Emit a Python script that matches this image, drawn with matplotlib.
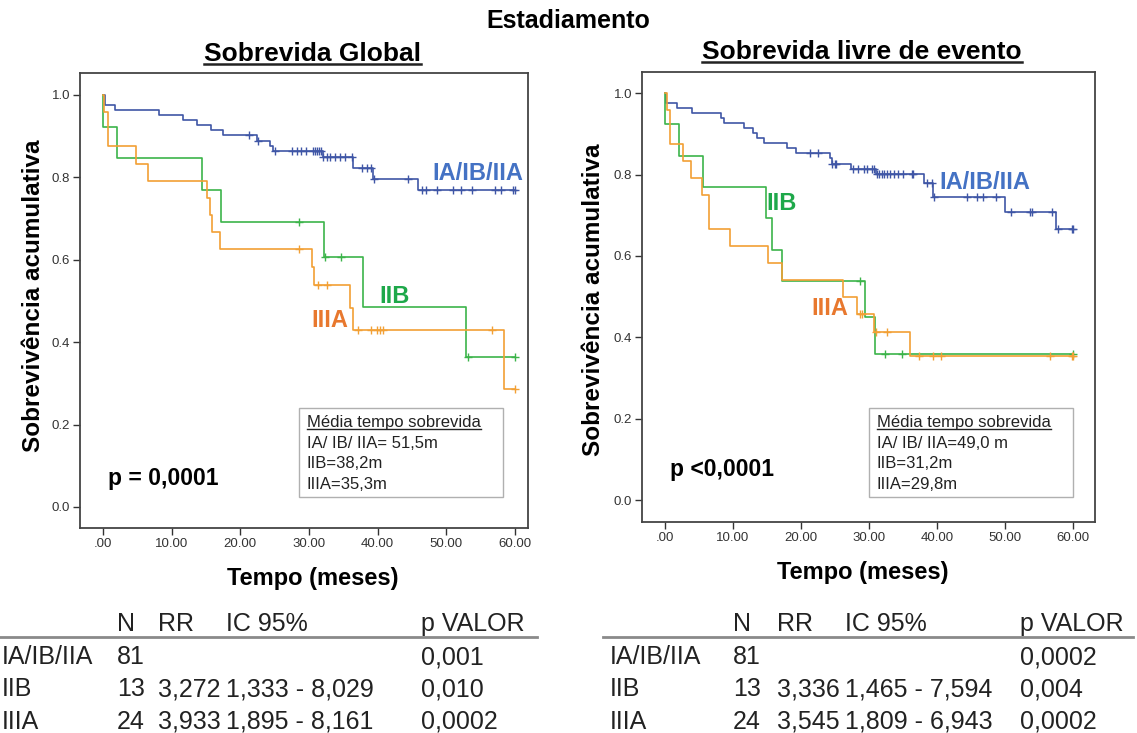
import matplotlib
matplotlib.use("Agg")
import matplotlib.pyplot as plt
import numpy as np
from matplotlib.lines import Line2D
from matplotlib.patches import Rectangle

plt.rcParams['font.family'] = ['Liberation Sans', 'DejaVu Sans']

# ---- curve data (months, cumulative survival after each step) ----
# Sobrevida Global
os_a_t = [0, 0.3, 1.75, 8.2, 11.7, 13.7, 15.8, 17.5, 22.4, 24.3, 24.8, 32.0, 36.4, 39.3, 45.9, 60.0]
os_a_s = [1, 0.975, 0.963, 0.951, 0.939, 0.926, 0.914, 0.902, 0.889, 0.877, 0.864, 0.849, 0.822, 0.797, 0.768, 0.768]
os_a_cens = [21.3, 22.6, 25.1, 27.6, 28.2, 28.9, 29.6, 30.6, 30.9, 31.1, 31.4, 31.8, 32.1, 32.6, 33.0,
             33.8, 34.5, 35.2, 36.2, 37.7, 38.4, 39.0, 39.5, 44.4, 46.4, 47.1, 48.6, 51.0, 52.2, 53.7,
             57.1, 58.0, 59.7, 60.0]
os_b_t = [0, 0.05, 2.0, 14.4, 17.2, 32.2, 37.9, 52.9, 60.0]
os_b_s = [1, 0.923, 0.846, 0.769, 0.692, 0.606, 0.485, 0.364, 0.364]
os_b_cens = [28.6, 32.3, 34.7, 53.1, 60.0]
os_c_t = [0, 0.2, 0.8, 4.8, 6.5, 15.1, 15.6, 15.9, 17.0, 30.4, 30.7, 36.0, 36.4, 58.4, 60.0]
os_c_s = [1, 0.958, 0.875, 0.833, 0.792, 0.750, 0.708, 0.667, 0.625, 0.583, 0.538, 0.484, 0.430, 0.287, 0.287]
os_c_cens = [28.6, 31.3, 32.6, 37.2, 39.1, 39.9, 40.4, 40.8, 56.6, 60.0]

# Sobrevida livre de evento
efs_a_t = [0, 0.2, 1.7, 3.9, 8.2, 8.6, 11.6, 13.0, 13.5, 14.6, 17.9, 19.3, 24.3, 24.5, 27.3, 31.0,
           38.0, 39.4, 50.0, 57.4, 60.0]
efs_a_s = [1, 0.976, 0.963, 0.951, 0.939, 0.927, 0.915, 0.902, 0.890, 0.878, 0.866, 0.853, 0.840,
           0.827, 0.814, 0.801, 0.780, 0.745, 0.708, 0.665, 0.665]
efs_a_cens = [21.3, 22.5, 24.6, 25.0, 25.2, 27.7, 28.4, 29.2, 29.7, 30.4, 30.7, 31.2, 31.5, 31.9, 32.2,
              32.6, 33.1, 33.6, 34.3, 35.0, 36.3, 36.5, 38.5, 39.2, 39.6, 44.4, 45.8, 46.8, 48.7, 50.8,
              53.7, 53.9, 56.9, 57.8, 59.8, 60.0]
efs_b_t = [0, 0.05, 2.1, 5.6, 14.9, 15.7, 17.2, 29.4, 30.9, 60.0]
efs_b_s = [1, 0.923, 0.846, 0.769, 0.692, 0.615, 0.538, 0.449, 0.359, 0.359]
efs_b_cens = [28.6, 32.4, 34.8, 60.0]
efs_c_t = [0, 0.3, 0.7, 2.7, 3.8, 5.5, 6.4, 6.5, 9.6, 15.2, 17.2, 26.2, 28.2, 30.7, 36.0, 60.0]
efs_c_s = [1, 0.958, 0.875, 0.833, 0.792, 0.750, 0.708, 0.667, 0.625, 0.583, 0.542, 0.500, 0.458,
           0.412, 0.355, 0.355]
efs_c_cens = [28.6, 28.9, 31.0, 32.7, 37.4, 39.4, 40.5, 56.6, 59.8, 60.0]

groups = ["IA/IB/IIA", "IIB", "IIIA"]
os_means = ["IA/ IB/ IIA= 51,5m", "IIB=38,2m", "IIIA=35,3m"]
efs_means = ["IA/ IB/ IIA=49,0 m", "IIB=31,2m", "IIIA=29,8m"]

# tables
tab_header = ["N", "RR", "IC 95%", "p VALOR"]
os_n = ["81", "13", "24"]
os_rr = ["", "3,272", "3,933"]
os_ic = ["", "1,333 - 8,029", "1,895 - 8,161"]
os_p = ["0,001", "0,010", "0,0002"]
efs_n = ["81", "13", "24"]
efs_rr = ["", "3,336", "3,545"]
efs_ic = ["", "1,465 - 7,594", "1,809 - 6,943"]
efs_p = ["0,0002", "0,004", "0,0002"]

line_cols = ['#3f56a6', '#3cb44a', '#f2a035']
text_cols = ['#4472c4', '#1ea84a', '#e8782e']

W, H = 1137, 733
fig = plt.figure(figsize=(W / 100, H / 100), dpi=100)


def fx(x):
    return x / W


def fy(y):
    return 1 - y / H


def surv_at(t, s, x):
    idx = np.searchsorted(t, x, side='right') - 1
    return np.asarray(s)[np.clip(idx, 0, len(s) - 1)]


def km_panel(box, xlim, ylim, curves):
    x0, y0, x1, y1 = box
    ax = fig.add_axes([fx(x0), fy(y1), (x1 - x0) / W, (y1 - y0) / H])
    for (t, s, c), col in zip(curves, line_cols):
        ax.step(t, s, where='post', color=col, lw=1.2)
        ax.plot(c, surv_at(t, s, c), ls='none', marker='+', ms=6, mew=1.0, color=col)
    ax.set_xlim(*xlim)
    ax.set_ylim(*ylim)
    ax.set_xticks([0, 10, 20, 30, 40, 50, 60])
    ax.set_xticklabels(['.00', '10.00', '20.00', '30.00', '40.00', '50.00', '60.00'])
    ax.set_yticks([0, 0.2, 0.4, 0.6, 0.8, 1.0])
    ax.set_yticklabels(['0.0', '0.2', '0.4', '0.6', '0.8', '1.0'])
    ax.tick_params(direction='out', length=5, width=1, colors='#333333', labelsize=9.5, pad=2)
    for sp in ax.spines.values():
        sp.set_color('#444444')
        sp.set_linewidth(1.3)
    return ax


axL = km_panel((80, 73, 528, 528), (-3.35, 61.9), (-0.051, 1.053),
               [(os_a_t, os_a_s, os_a_cens), (os_b_t, os_b_s, os_b_cens), (os_c_t, os_c_s, os_c_cens)])
axR = km_panel((642, 72, 1095, 522), (-3.38, 63.2), (-0.054, 1.052),
               [(efs_a_t, efs_a_s, efs_a_cens), (efs_b_t, efs_b_s, efs_b_cens), (efs_c_t, efs_c_s, efs_c_cens)])

# curve labels
lab_kw = dict(fontsize=17, fontweight='bold', va='center', ha='left')
axL.text(47.9, 0.81, groups[0], color=text_cols[0], **lab_kw)
axL.text(40.3, 0.51, groups[1], color=text_cols[1], **lab_kw)
axL.text(30.4, 0.452, groups[2], color=text_cols[2], **lab_kw)
axR.text(40.4, 0.78, groups[0], color=text_cols[0], **lab_kw)
axR.text(14.9, 0.73, groups[1], color=text_cols[1], **lab_kw)
axR.text(21.5, 0.47, groups[2], color=text_cols[2], **lab_kw)

axL.text(0.7, 0.068, "p = 0,0001", fontsize=16.5, fontweight='bold', va='center', ha='left')
axR.text(0.7, 0.074, "p <0,0001", fontsize=16.5, fontweight='bold', va='center', ha='left')

# axis labels
fig.text(fx(34), fy(296), "Sobrevivência acumulativa", rotation=90, fontsize=17.5,
         fontweight='bold', ha='center', va='center')
fig.text(fx(594), fy(300), "Sobrevivência acumulativa", rotation=90, fontsize=17.5,
         fontweight='bold', ha='center', va='center')
fig.text(fx(313), fy(578), "Tempo (meses)", fontsize=17, fontweight='bold', ha='center', va='center')
fig.text(fx(863), fy(572), "Tempo (meses)", fontsize=17, fontweight='bold', ha='center', va='center')

# titles
fig.text(fx(568), fy(28), "Estadiamento", fontsize=18, fontweight='bold', ha='center', va='baseline')
tL = fig.text(fx(312), fy(61), "Sobrevida Global", fontsize=19, fontweight='bold', ha='center', va='baseline')
tR = fig.text(fx(862), fy(59), "Sobrevida livre de evento", fontsize=19, fontweight='bold',
              ha='center', va='baseline')


# mean survival boxes
def mean_box(x0, y0, x1, y1, lines):
    fig.add_artist(Rectangle((fx(x0), fy(y1)), (x1 - x0) / W, (y1 - y0) / H, transform=fig.transFigure,
                             facecolor='white', edgecolor='#b0b0b0', lw=1.0, zorder=3))
    t = fig.text(fx(x0 + 8), fy(y0 + 19), "Média tempo sobrevida", fontsize=12, va='baseline',
                 ha='left', zorder=4, color='#222222')
    for i, s in enumerate(lines):
        fig.text(fx(x0 + 8), fy(y0 + 40 + 20.5 * i), s, fontsize=12, va='baseline', ha='left',
                 zorder=4, color='#222222')
    return t, y0 + 21


bl = mean_box(299, 408, 503, 497, os_means)
br = mean_box(869, 408, 1073, 497, efs_means)


# tables
def table(cols, line_x, rows):
    n, rr, ic, p = rows
    kw = dict(fontsize=18, va='baseline', ha='left', color='#222222')
    for h, cx in zip(tab_header, cols[1:]):
        fig.text(fx(cx), fy(631), h, **kw)
    fig.add_artist(Line2D([fx(line_x[0]), fx(line_x[1])], [fy(637), fy(637)], color='#8a8a8a',
                          lw=2, transform=fig.transFigure))
    for i, g in enumerate(groups):
        yb = 664 + 32.5 * i
        fig.text(fx(cols[0]), fy(yb), g, **kw)
        fig.text(fx(cols[1]), fy(yb), n[i], **kw)
        fig.text(fx(cols[2]), fy(yb), rr[i], **kw)
        fig.text(fx(cols[3]), fy(yb), ic[i], **kw)
        fig.text(fx(cols[4]), fy(yb), p[i], **kw)


table([2, 117, 158, 226, 421], (0, 537), (os_n, os_rr, os_ic, os_p))
table([610, 733, 777, 845, 1020], (603, 1133), (efs_n, efs_rr, efs_ic, efs_p))

# underlines
fig.canvas.draw()
r = fig.canvas.get_renderer()
for t, yb, lw in [(tL, 64, 1.8), (tR, 62, 1.8), (bl[0], bl[1], 1.0), (br[0], br[1], 1.0)]:
    bb = t.get_window_extent(r)
    fig.add_artist(Line2D([bb.x0 / W, bb.x1 / W], [fy(yb), fy(yb)], color='#222222', lw=lw,
                          transform=fig.transFigure, zorder=5))

fig.savefig("out.png", dpi=100, facecolor='white')
